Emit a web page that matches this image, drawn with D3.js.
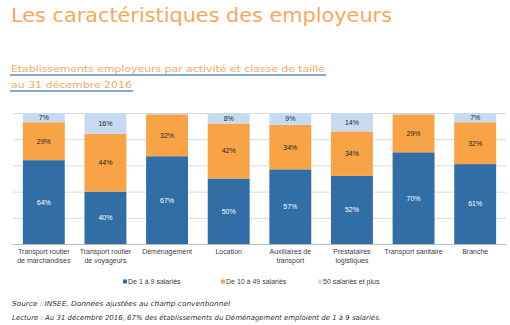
<!DOCTYPE html>
<html>
<head>
<meta charset="utf-8">
<script src="https://cdn.jsdelivr.net/npm/d3@7"></script>
<style>
  body { margin: 0; background: #fff; }
  svg { display: block; }
</style>
</head>
<body>
<div id="chart"></div>
<script>
// establishments by activity, share per size class (%)
var categories = [
  "Transport routier\nde marchandises",
  "Transport routier\nde voyageurs",
  "Déménagement",
  "Location",
  "Auxiliaires de\ntransport",
  "Prestataires\nlogistiques",
  "Transport sanitaire",
  "Branche"
];
var small = [64, 40, 67, 50, 57, 52, 70, 61];   // De 1 à 9 salariés
var medium = [29, 44, 32, 42, 34, 34, 29, 32];  // De 10 à 49 salariés
var large = [7, 16, 1, 8, 9, 14, 1, 7];         // 50 salariés et plus
var seriesNames = ["De 1 à 9 salariés", "De 10 à 49 salariés", "50 salariés et plus"];
var yTicks = [0, 20, 40, 60, 80, 100];

var colors = ["#316ea6", "#f7a346", "#c6daf2"];
var W = 510, H = 325;

var svg = d3.select("#chart").append("svg")
  .attr("width", W)
  .attr("height", H);

// page title
svg.append("text")
  .attr("x", 11).attr("y", 22)
  .attr("font-family", "DejaVu Sans, Verdana, sans-serif")
  .attr("font-size", 20)
  .attr("fill", "#f7a85c")
  .attr("textLength", 381)
  .attr("lengthAdjust", "spacingAndGlyphs")
  .text("Les caractéristiques des employeurs");

// chart title, underlined
var sub = [
  { t: "Etablissements employeurs par activité et classe de taille", y: 72, w: 314 },
  { t: "au 31 décembre 2016", y: 88, w: 121 }
];
sub.forEach(function(s) {
  svg.append("line")
    .attr("x1", 10).attr("x2", 11 + s.w + 1)
    .attr("y1", s.y + 3).attr("y2", s.y + 3)
    .attr("stroke", "#5d8fc6")
    .attr("stroke-width", 1.3);
  svg.append("text")
    .attr("x", 11).attr("y", s.y)
    .attr("font-family", "DejaVu Sans, Verdana, sans-serif")
    .attr("font-size", 9.5)
    .attr("fill", "#f7a85c")
    .attr("textLength", s.w)
    .attr("lengthAdjust", "spacingAndGlyphs")
    .text(s.t);
});

// scales
var x = d3.scaleBand()
  .domain(categories)
  .range([13, 506])
  .paddingInner(0.32)
  .paddingOuter(0.16);

var y = d3.scaleLinear().domain([0, 100]).range([244, 113]);

// gridlines
var grid = svg.append("g")
  .attr("transform", "translate(13,0)")
  .call(d3.axisLeft(y).tickValues(yTicks).tickSize(-493).tickFormat(""));
grid.select(".domain").remove();
grid.selectAll("line").attr("stroke", "#d9d9d9").attr("stroke-width", 1);

// stack the three series
var rows = categories.map(function(c, i) {
  return { cat: c, s0: small[i], s1: medium[i], s2: large[i] };
});
var stacked = d3.stack().keys(["s0", "s1", "s2"])(rows);

var layers = svg.selectAll(".layer")
  .data(stacked)
  .enter().append("g")
  .attr("class", "layer")
  .attr("fill", function(d, i) { return colors[i]; });

layers.selectAll("rect")
  .data(function(d) { return d; })
  .enter().append("rect")
  .attr("x", function(d) { return x(d.data.cat); })
  .attr("y", function(d) { return y(d[1]); })
  .attr("width", x.bandwidth())
  .attr("height", function(d) { return y(d[0]) - y(d[1]); });

// value labels (skip tiny segments)
layers.each(function(layer, li) {
  d3.select(this).selectAll("text")
    .data(layer.filter(function(d) { return d[1] - d[0] >= 5; }))
    .enter().append("text")
    .attr("x", function(d) { return x(d.data.cat) + x.bandwidth() / 2; })
    .attr("y", function(d) { return y((d[0] + d[1]) / 2); })
    .attr("dy", "0.35em")
    .attr("text-anchor", "middle")
    .attr("font-family", "Liberation Sans, Arial, sans-serif")
    .attr("font-size", 7)
    .attr("fill", li === 0 ? "#ffffff" : "#262626")
    .text(function(d) { return (d[1] - d[0]) + "%"; });
});

// category axis
var xAxis = svg.append("g")
  .attr("transform", "translate(0,244)")
  .call(d3.axisBottom(x).tickSize(0).tickFormat(""));
xAxis.select(".domain").attr("stroke", "#bfbfbf").attr("d", "M12,0.5H506");

xAxis.selectAll(".tick").append("text")
  .attr("fill", "#404040")
  .attr("font-family", "Liberation Sans, Arial, sans-serif")
  .attr("font-size", 7)
  .attr("text-anchor", "middle")
  .each(function(d) {
    var t = d3.select(this);
    d.split("\n").forEach(function(line, i) {
      t.append("tspan").attr("x", 0).attr("y", 10 + i * 8.5).text(line);
    });
  });

// legend
var legendX = [123, 221, 318];
var legend = svg.selectAll(".legend")
  .data(seriesNames)
  .enter().append("g")
  .attr("class", "legend")
  .attr("transform", function(d, i) { return "translate(" + legendX[i] + ",282)"; });
legend.append("rect")
  .attr("x", 0).attr("y", -2.5)
  .attr("width", 4).attr("height", 4)
  .attr("fill", function(d, i) { return colors[i]; });
legend.append("text")
  .attr("x", 5).attr("dy", "0.3em")
  .attr("font-family", "Liberation Sans, Arial, sans-serif")
  .attr("font-size", 7)
  .attr("fill", "#404040")
  .text(function(d) { return d; });

// notes
var notes = [
  { t: "Source : INSEE, Données ajustées au champ conventionnel", y: 306, w: 218 },
  { t: "Lecture : Au 31 décembre 2016, 67% des établissements du Déménagement emploient de 1 à 9 salariés.", y: 320, w: 369 }
];
notes.forEach(function(n) {
  svg.append("text")
    .attr("x", 12).attr("y", n.y)
    .attr("font-family", "DejaVu Sans, Verdana, sans-serif")
    .attr("font-style", "italic")
    .attr("font-size", 7)
    .attr("fill", "#333")
    .attr("textLength", n.w)
    .attr("lengthAdjust", "spacingAndGlyphs")
    .text(n.t);
});
</script>
</body>
</html>
